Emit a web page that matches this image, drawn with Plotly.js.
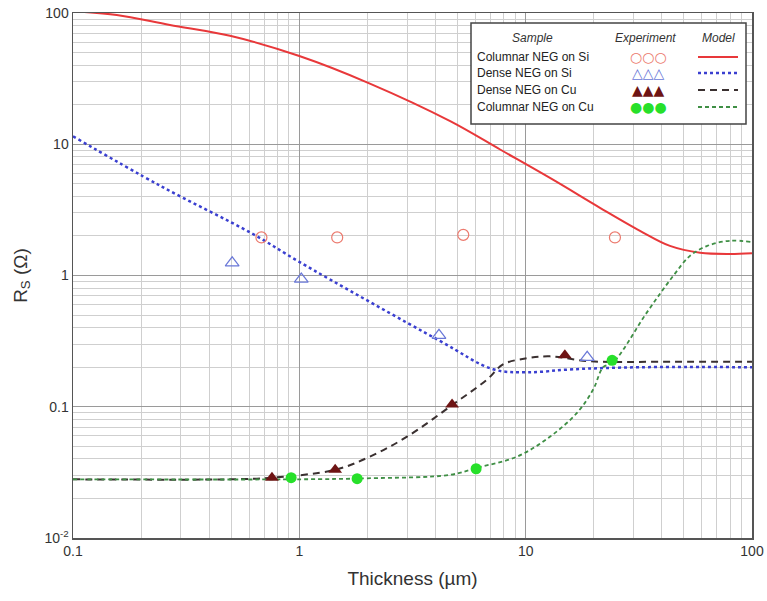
<!DOCTYPE html>
<html>
<head>
<meta charset="utf-8">
<script src="https://cdn.plot.ly/plotly-3.0.1.min.js"></script>
<style>html,body{margin:0;padding:0;background:#fff;}#chart{width:767px;height:601px;}</style>
</head>
<body>
<div id="chart"></div>
<script>
// ---------- Data ----------
// Experiment: Columnar NEG on Si (open red circles)
const colSiX = [0.68, 1.47, 5.3, 24.8];
const colSiY = [1.95, 1.95, 2.04, 1.95];
// Experiment: Dense NEG on Si (open blue triangles)
const denSiX = [0.505, 1.02, 4.14, 18.7];
const denSiY = [1.25, 0.94, 0.35, 0.238];
// Experiment: Dense NEG on Cu (filled dark-red triangles)
const denCuX = [0.757, 1.44, 4.73, 14.9];
const denCuY = [0.0288, 0.0331, 0.104, 0.247];
// Experiment: Columnar NEG on Cu (filled green circles)
const colCuX = [0.92, 1.80, 6.04, 24.1];
const colCuY = [0.0288, 0.0283, 0.0337, 0.226];

// Model curves
const mColSiX = [0.1, 0.156, 0.268, 0.494, 1.0, 2.05, 4.64, 7.71, 13.2, 21.3, 32, 43.4, 59, 80, 100];
const mColSiY = [103, 96.6, 81, 67, 47, 29, 15, 9.12, 5.37, 3.28, 2.19, 1.68, 1.49, 1.46, 1.48];

const mDenSiX = [0.1, 0.242, 0.624, 1.0, 4.2, 7.18, 10.1, 16.2, 32, 100];
const mDenSiY = [11.5, 4.84, 2.07, 1.27, 0.316, 0.193, 0.183, 0.193, 0.2, 0.2];

const mDenCuX = [0.1, 0.5, 0.757, 1.44, 2.05, 2.99, 4.77, 6.75, 7.94, 10.1, 12.8, 19.3, 40, 100];
const mDenCuY = [0.028, 0.028, 0.0288, 0.0331, 0.0417, 0.0591, 0.104, 0.161, 0.21, 0.234, 0.242, 0.222, 0.22, 0.22];

const mColCuX = [0.1, 1.0, 2.0, 4.65, 6.1, 9.16, 12.8, 16.9, 19.9, 22, 24.3, 34.4, 44.8, 53.2, 63.4, 80, 100];
const mColCuY = [0.028, 0.028, 0.0285, 0.0303, 0.0343, 0.0417, 0.0591, 0.0903, 0.136, 0.2, 0.217, 0.526, 0.99, 1.41, 1.68, 1.84, 1.80];

// Tick labels
const yTickVals = [0.01, 0.1, 1, 10, 100];
const yTickText = ['10<sup>-2</sup>', '0.1', '1', '10', '100'];
const xTickVals = [0.1, 1, 10, 100];
const xTickText = ['0.1', '1', '10', '100'];

// Legend text
const legendNames = ['Columnar NEG on Si', 'Dense NEG on Si', 'Dense NEG on Cu', 'Columnar NEG on Cu'];
const legendGlyphs = ['\u25CB\u25CB\u25CB', '\u25B3\u25B3\u25B3', '\u25B2\u25B2\u25B2', '\u25CF\u25CF\u25CF'];

// ---------- Styles ----------
const cRed = '#e8383a', cRedM = '#ec7a6e';
const cBlue = '#3a3fd0', cBlueM = '#6a78d8';
const cDark = '#3a3030', cDarkM = '#6e1414';
const cGreen = '#3f8f45', cGreenM = '#27e02a';
const dashDark = '7px,5px';
const dashGreen = '4px,3px';
const legendLineStyles = [
  {color: cRed, dash: 'solid', width: 2},
  {color: cBlue, dash: 'dot', width: 2.5},
  {color: cDark, dash: dashDark, width: 2},
  {color: cGreen, dash: dashGreen, width: 1.8}
];
const glyphColors = [cRedM, cBlueM, cDarkM, cGreenM];

// minor gridline positions
const minorVals = (lo, hi) => {
  const a = [];
  for (let e = lo; e < hi; e++) for (let m = 2; m <= 9; m++) a.push(m * Math.pow(10, e));
  return a;
};

const traces = [
  {x: mColSiX, y: mColSiY, mode: 'lines', line: {color: cRed, width: 2, shape: 'spline', smoothing: 1}},
  {x: mDenSiX, y: mDenSiY, mode: 'lines', line: {color: cBlue, width: 2.5, dash: 'dot', shape: 'spline', smoothing: 1}},
  {x: mDenCuX, y: mDenCuY, mode: 'lines', line: {color: cDark, width: 2, dash: dashDark, shape: 'spline', smoothing: 1}},
  {x: mColCuX, y: mColCuY, mode: 'lines', line: {color: cGreen, width: 1.8, dash: dashGreen, shape: 'spline', smoothing: 1}},
  {x: colSiX, y: colSiY, mode: 'markers', marker: {symbol: 'circle-open', size: 11, color: cRedM, line: {width: 1.2}}},
  {x: denSiX, y: denSiY, mode: 'markers', marker: {symbol: 'triangle-up-open', size: 12, color: cBlueM, line: {width: 1.2}}},
  {x: denCuX, y: denCuY, mode: 'markers', marker: {symbol: 'triangle-up', size: 12, color: cDarkM}},
  {x: colCuX, y: colCuY, mode: 'markers', marker: {symbol: 'circle', size: 11, color: cGreenM}}
];

// pixel -> paper helpers for legend layout
const L = 73, R = 752, T = 13, B = 538;
const px = p => (p - L) / (R - L);
const py = p => (B - p) / (B - T);

const shapes = [
  {type: 'rect', xref: 'paper', yref: 'paper', x0: px(471), x1: px(746), y0: py(124), y1: py(23),
   line: {color: '#444', width: 1.5}, fillcolor: '#ffffff', layer: 'above'}
];
const annotations = [
  {text: '<i>Sample</i>', x: px(532), y: py(38)},
  {text: '<i>Experiment</i>', x: px(645), y: py(38)},
  {text: '<i>Model</i>', x: px(718), y: py(38)}
].map(a => Object.assign(a, {xref: 'paper', yref: 'paper', showarrow: false, xanchor: 'center', yanchor: 'middle',
   font: {family: 'Liberation Sans, Arial', size: 12, color: '#333'}}));

const rowY = [57, 73, 90, 107];
legendNames.forEach((n, i) => {
  annotations.push({text: n, xref: 'paper', yref: 'paper', x: px(475), y: py(rowY[i]), xanchor: 'left', yanchor: 'middle',
    showarrow: false, font: {family: 'Liberation Sans, Arial', size: 12, color: '#222'}});
  annotations.push({text: legendGlyphs[i], xref: 'paper', yref: 'paper', x: px(648), y: py(rowY[i]), xanchor: 'center', yanchor: 'middle',
    showarrow: false, font: {family: 'DejaVu Sans', size: 14, color: glyphColors[i]}});
  const s = legendLineStyles[i];
  shapes.push({type: 'line', xref: 'paper', yref: 'paper', x0: px(698), x1: px(738), y0: py(rowY[i]), y1: py(rowY[i]),
    line: {color: s.color, width: s.width, dash: s.dash}, layer: 'above'});
});

const axisCommon = {
  type: 'log', showline: true, linecolor: '#555', linewidth: 1.5, mirror: true,
  showgrid: true, gridcolor: '#9a9a9a', gridwidth: 1, zeroline: false, ticks: '',
  tickmode: 'array', tickfont: {family: 'Liberation Sans, Arial', size: 14, color: '#333'}
};

const layout = {
  width: 767, height: 601,
  margin: {l: L, r: 767 - R, t: T, b: 601 - B},
  paper_bgcolor: '#fff', plot_bgcolor: '#fff',
  showlegend: false,
  xaxis: Object.assign({}, axisCommon, {
    range: [-1, 2], tickvals: xTickVals, ticktext: xTickText,
    minor: {tickmode: 'array', tickvals: minorVals(-1, 2), showgrid: true, gridcolor: '#cfcfcf', gridwidth: 1, ticks: ''},
    title: {text: 'Thickness (\u00B5m)', font: {family: 'Liberation Sans, Arial', size: 19, color: '#333'}, standoff: 13}
  }),
  yaxis: Object.assign({}, axisCommon, {
    range: [-2, 2], tickvals: yTickVals, ticktext: yTickText,
    minor: {tickmode: 'array', tickvals: minorVals(-2, 2), showgrid: true, gridcolor: '#cfcfcf', gridwidth: 1, ticks: ''},
    title: {text: 'R<sub>S</sub> (\u03A9)', font: {family: 'Liberation Sans, Arial', size: 19, color: '#333'}, standoff: 12}
  }),
  shapes: shapes,
  annotations: annotations
};

Plotly.newPlot('chart', traces, layout, {displayModeBar: false, staticPlot: true});
</script>
</body>
</html>
